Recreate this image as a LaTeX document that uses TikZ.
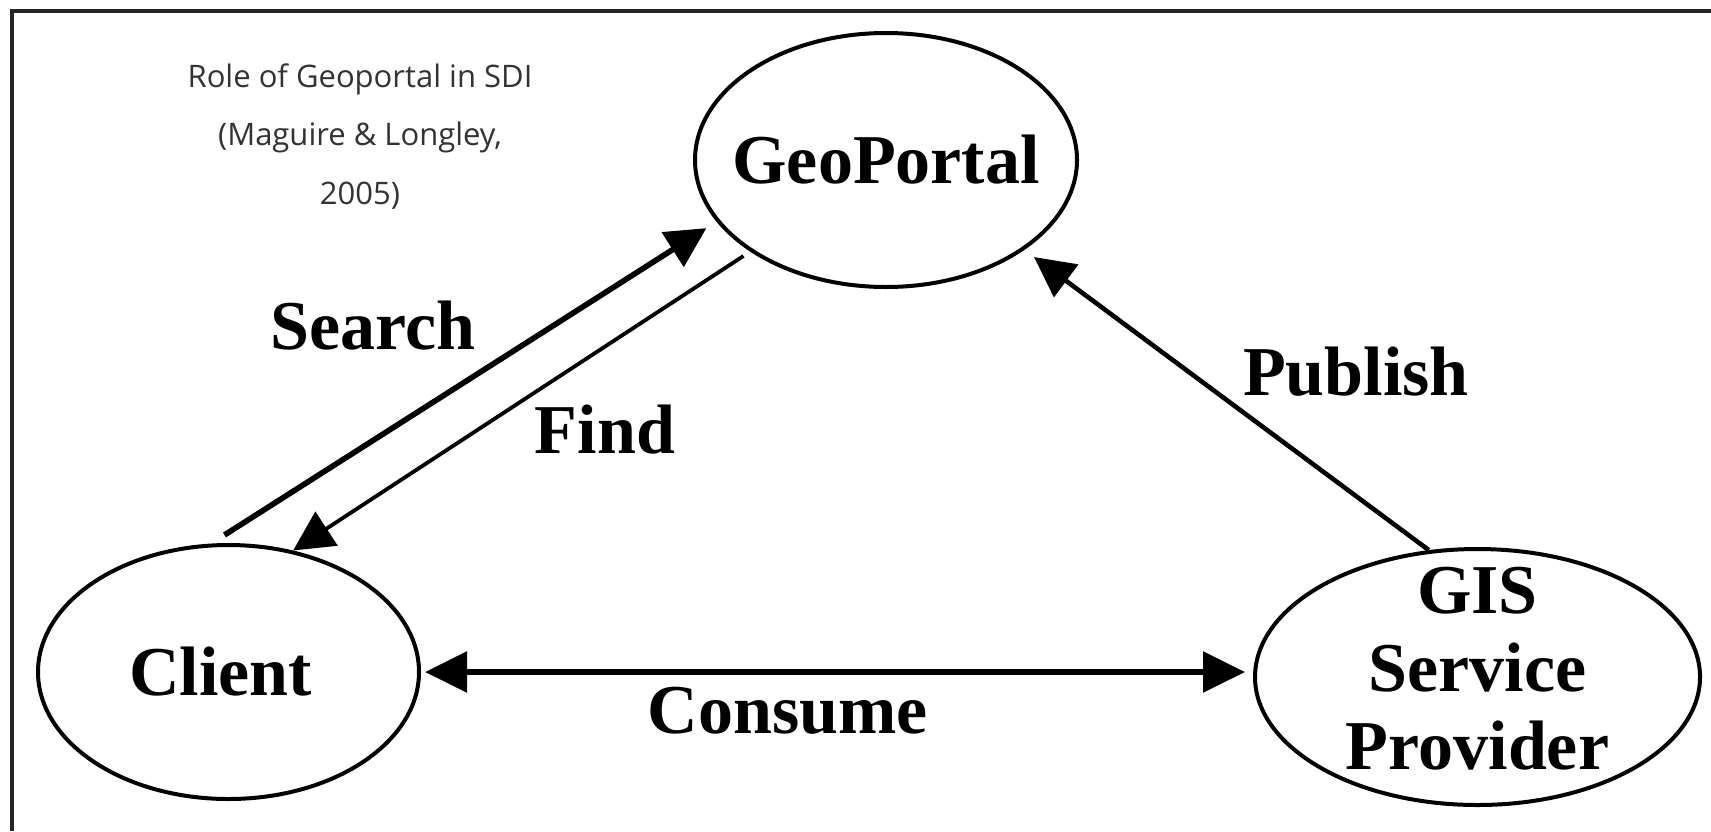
\documentclass[tikz,border=0pt]{standalone}
\usepackage{fontspec}
\setmainfont{Liberation Serif}
\newfontfamily\capfont{Open Sans}
\usepackage{tikz}
\usetikzlibrary{shapes.geometric,arrows.meta}
\definecolor{capgray}{RGB}{51,51,51}

\begin{document}
\begin{tikzpicture}[x=0.5pt,y=-0.5pt,
		bubble/.style={draw,ellipse,line width=2pt,inner sep=0pt},
		lbl/.style={font=\bfseries\fontsize{35}{39}\selectfont,inner sep=0pt},
		arr/.style={-{Triangle[length=20pt,width=20pt]},line width=2.8pt}]
	\useasboundingbox (0,0) rectangle (1711,831);
	
	% frame (only top and left edges remain)
	\draw[line width=1.6pt,black!85] (12,831) -- (12,11) -- (1711,11);
	
	% caption
	\node[font=\capfont\fontsize{15.5}{29.3}\selectfont,text=capgray,align=center,anchor=north,inner sep=0pt] (cap) at (360,63) {Role of Geoportal in SDI\\(Maguire \& Longley,\\2005)};
	
	% the three actors
	\node[bubble,minimum width=191pt,minimum height=127pt] (geo) at (886,160) {};
	\node[bubble,minimum width=190.5pt,minimum height=127pt] (client) at (228.5,672) {};
	\node[bubble,minimum width=222.5pt,minimum height=128pt] (gis) at (1477.5,677) {};
	\node[lbl] (geotxt) at (geo) {GeoPortal};
	\node[lbl,xshift=-4pt] (clienttxt) at (client) {Client};
	\node[lbl,align=center,yshift=4pt] (gistxt) at (gis) {GIS\\Service\\Provider};
	
	% search / find
	\draw[arr,shorten >=6pt] ([shift={(-2pt,4pt)}]client.north) -- (geo.200);
	\draw[arr,line width=1.9pt,shorten <=4pt] (geo.214) -- (client.62);
	% publish
	\draw[arr,line width=2.3pt,shorten >=6pt] (gis.111) -- (geo.327);
	% consume
	\draw[arr,{Triangle[length=21pt,width=20pt]}-{Triangle[length=21pt,width=20pt]},shorten <=2pt,shorten >=4pt] (client.east) -- (client.east -| gis.west);
	
	% arrow labels
	\node[lbl,anchor=base] (search) at (373,349) {Search};
	\node[lbl,anchor=base] (find) at (605,453) {Find};
	\node[lbl,anchor=base] (publish) at (1356,395) {Publish};
	\node[lbl,anchor=base] (consume) at (788,733) {Consume};
\end{tikzpicture}
\end{document}
